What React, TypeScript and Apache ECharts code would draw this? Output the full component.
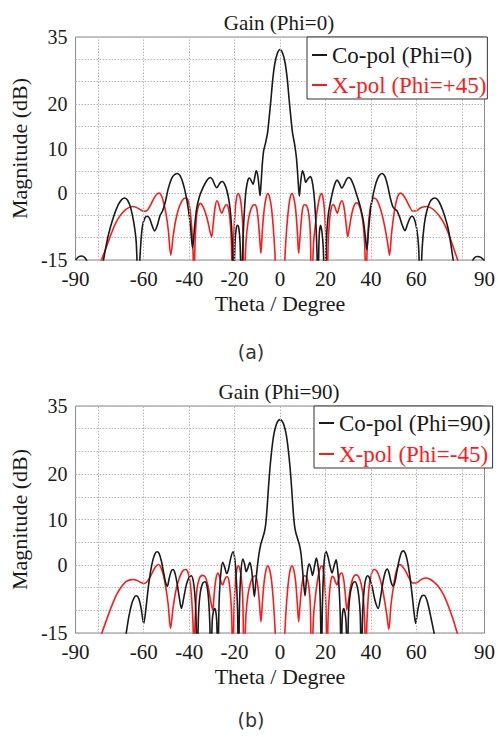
import React, { useEffect, useRef } from "react";
import * as echarts from "echarts";

const xTickLabels = [-90, -60, -40, -20, 0, 20, 40, 60, 90];
const yTickLabels = [35, 20, 10, 0, -15];
const xGridLines = [-80, -60, -40, -20, 0, 20, 40, 60, 80];

const titleA = "Gain (Phi=0)";
const titleB = "Gain (Phi=90)";
const namesA = ["Co-pol (Phi=0)", "X-pol (Phi=+45)"];
const namesB = ["Co-pol (Phi=90)", "X-pol (Phi=-45)"];

// (a) Co-pol, Phi=0 : [theta deg, gain dB]
const coPolA: [number, number][] = [
  [-90, -15.0], [-88.7, -14.3], [-87.2, -14.1], [-85.7, -14.6], [-84.5, -16], [-81, -24],
  [-78.2, -16.5], [-77, -13], [-75.6, -9.5], [-73.6, -5.8], [-71.2, -2.6], [-69.6, -1.4],
  [-68.4, -1.1], [-67.1, -1.6], [-65.8, -3.2], [-64.4, -6.5], [-63.3, -11], [-62.4, -22],
  [-61.5, -13], [-60.6, -7.5], [-59.4, -5.5], [-58.4, -5.2], [-57.4, -5.7], [-56.3, -7.3],
  [-55.2, -8.5], [-54.0, -7.2], [-52.8, -5.0], [-51.7, -4.0], [-50.5, -2.0], [-49.2, 1.0],
  [-47.6, 3.4], [-46.3, 4.2], [-45.2, 4.4], [-44.0, 3.9], [-42.8, 2.4], [-41.6, 0],
  [-40.4, -3.5], [-39.4, -7.5], [-38.5, -12.3], [-37.6, -7.5], [-36.7, -3.5], [-35.5, -0.8],
  [-34.1, 1.0], [-32.5, 2.6], [-31.4, 3.3], [-30.6, 3.5], [-29.7, 3.0], [-28.7, 1.8],
  [-27.8, 1.2], [-26.9, 1.9], [-26.0, 2.5], [-25.3, 2.6], [-24.4, 2.0], [-23.4, 0.6],
  [-22.5, -1.6], [-21.7, -5], [-21.1, -10], [-20.5, -22], [-19.8, -11], [-19.3, -8],
  [-18.7, -7.2], [-18.1, -8], [-17.6, -11], [-17.0, -22], [-16.4, -12], [-15.8, -5],
  [-15.0, 0.5], [-14.1, 3.0], [-13.5, 3.4], [-12.7, 2.8], [-11.9, 2.0], [-11.1, 3.6],
  [-10.5, 5.0], [-9.9, 4.2], [-9.3, 1.8], [-8.8, -0.6], [-8.3, 2.5], [-7.8, 6.5],
  [-7.2, 9.5], [-6.4, 11.2], [-5.5, 13.5], [-4.8, 16.8], [-4.0, 21.0], [-3.2, 25.5],
  [-2.3, 29.0], [-1.2, 31.3], [0, 32.2], [1.2, 31.3], [2.3, 29.0], [3.2, 25.5],
  [4.0, 21.0], [4.8, 16.8], [5.5, 13.5], [6.4, 11.0], [7.2, 8.0], [7.8, 4.0], [8.5, -0.7],
  [9.1, 2.5], [9.9, 5.0], [10.6, 4.0], [11.3, 2.4], [12.3, 3.2], [13.3, 3.7], [14.1, 2.8],
  [14.9, 0], [15.6, -5], [16.2, -12], [16.7, -22], [17.2, -10], [17.8, -7.2], [18.4, -8.5],
  [19.0, -12], [19.7, -22], [20.4, -11], [21.2, -5], [22.2, -2.0], [23.4, 0.8], [24.3, 2.3],
  [25.1, 2.9], [26.1, 2.2], [27.2, 1.1], [28.3, 2.0], [29.3, 3.1], [30.2, 3.5], [31.2, 3.1],
  [32.5, 1.6], [33.8, -0.5], [35.2, -2.8], [36.6, -6], [37.5, -9.5], [38.2, -12.7],
  [39.0, -8], [39.9, -3.5], [41.0, -0.3], [42.3, 2.4], [43.6, 3.9], [44.9, 4.4], [46.1, 3.8],
  [47.3, 1.8], [48.5, -1.0], [49.6, -3.0], [50.5, -3.6], [51.4, -3.9], [52.6, -5.3],
  [53.8, -7.2], [55.0, -8.4], [56.1, -7.0], [57.2, -5.6], [58.1, -5.2], [59.1, -5.8],
  [60.1, -7.8], [61.0, -12], [61.7, -22], [62.6, -12], [63.5, -7], [64.6, -4.0],
  [66.0, -2.0], [67.1, -1.3], [68.1, -1.1], [69.4, -1.5], [70.8, -2.8], [72.4, -5.0],
  [74.0, -8.0], [75.2, -11.5], [76.2, -15], [77.5, -20], [81, -24], [84.2, -16],
  [85.4, -14.6], [86.8, -14.2], [88.4, -14.4], [90, -15.2],
];

// (a) X-pol, Phi=+45
const xPolA: [number, number][] = [
  [-80, -17.5], [-78.6, -15], [-76.5, -12.2], [-74.5, -9.4], [-72.4, -6.8], [-70.3, -5.0],
  [-68.2, -3.8], [-66.3, -3.2], [-64.8, -3.0], [-63.3, -3.2], [-61.5, -3.7], [-59.8, -4.1],
  [-58.3, -3.8], [-56.8, -2.5], [-55.2, -0.9], [-54.1, -0.2], [-53.2, 0], [-52.2, -0.6],
  [-51.2, -2.2], [-50.2, -4.6], [-49.2, -8.2], [-48.1, -13.9], [-47.0, -9.5], [-45.8, -5.8],
  [-44.5, -3.3], [-43.2, -1.8], [-42.2, -1.2], [-41.3, -1.1], [-40.4, -1.8], [-39.6, -3.8],
  [-38.9, -7.5], [-38.3, -13], [-37.9, -20], [-37.4, -11], [-36.8, -5.5], [-36.0, -3.0],
  [-35.0, -2.3], [-34.0, -2.9], [-32.9, -4.3], [-31.8, -6.3], [-30.8, -8.7], [-30.1, -9.8],
  [-29.4, -6.8], [-28.6, -3.2], [-27.8, -1.7], [-27.0, -2.5], [-26.3, -3.9], [-25.6, -4.5],
  [-24.8, -3.5], [-24.0, -2.7], [-23.4, -2.6], [-22.7, -3.5], [-22.0, -6.0], [-21.4, -11],
  [-20.9, -22], [-20.3, -9], [-19.7, -3.5], [-19.1, -1.0], [-18.4, -0.1], [-17.7, -0.8],
  [-17.0, -3.0], [-16.4, -7.5], [-15.8, -22], [-15.0, -11], [-14.0, -6.2], [-13.0, -3.9],
  [-12.0, -2.8], [-11.0, -2.6], [-10.2, -3.6], [-9.5, -6.5], [-8.9, -10.5], [-8.4, -13.5],
  [-7.8, -8.5], [-7.0, -3.8], [-6.2, -1.2], [-5.4, -0.1], [-4.6, -0.9], [-3.8, -3.2],
  [-3.0, -7.5], [-2.3, -13], [-1.5, -22], [0, -30], [1.5, -22], [2.3, -13], [3.0, -7.5],
  [3.8, -3.2], [4.5, -0.9], [5.3, -0.1], [6.1, -1.2], [6.9, -3.8], [7.6, -8.5], [8.2, -13.5],
  [8.7, -10.5], [9.3, -6.5], [9.9, -3.6], [10.7, -2.6], [11.7, -2.8], [12.6, -4.5],
  [13.3, -8.5], [13.9, -22], [14.8, -11], [15.8, -6], [16.8, -2.5], [17.5, -0.8],
  [18.2, -0.1], [18.9, -1.0], [19.5, -3.5], [20.1, -9], [20.7, -22], [21.2, -11],
  [21.8, -6.0], [22.5, -3.5], [23.2, -2.6], [23.9, -2.8], [24.6, -3.8], [25.2, -4.5],
  [26.0, -3.2], [26.6, -2.1], [27.3, -1.7], [28.1, -3.0], [29.0, -6.5], [29.8, -9.8],
  [30.6, -7.5], [31.6, -4.6], [32.6, -2.8], [33.6, -2.2], [34.6, -2.5], [35.6, -4.0],
  [36.6, -7], [37.3, -12], [37.8, -20], [38.4, -12], [39.1, -6], [40.0, -2.6], [41.3, -1.1],
  [42.4, -1.4], [43.6, -2.6], [44.9, -4.8], [46.2, -7.8], [47.3, -11], [48.2, -13.9],
  [49.1, -9], [50.0, -5.2], [51.0, -2.2], [52.0, -0.5], [53.0, 0], [54.0, -0.3],
  [55.3, -1.3], [56.8, -2.8], [58.4, -4.0], [60.0, -4.0], [61.6, -3.4], [63.0, -3.1],
  [64.4, -3.0], [66.0, -3.2], [68.0, -3.9], [70.2, -5.2], [72.4, -7.0], [74.4, -9.4],
  [76.4, -12.3], [78.2, -15], [80, -17.5],
];

// (b) Co-pol, Phi=90
const coPolB: [number, number][] = [
  [-69, -19], [-67.7, -15], [-66.5, -11.3], [-65.3, -8.6], [-64.2, -7.2], [-63.2, -6.8],
  [-62.2, -7.4], [-61.2, -9.4], [-60.0, -12.9], [-59.0, -9.5], [-58.0, -5], [-57.0, -1.5],
  [-56.0, 1.0], [-55.0, 2.5], [-54.1, 2.9], [-53.2, 2.5], [-52.2, 0.8], [-51.2, -1.8],
  [-50.3, -4.0], [-49.6, -4.7], [-48.8, -3.0], [-47.9, -1.4], [-47.1, -1.0], [-46.3, -1.7],
  [-45.4, -3.8], [-44.4, -7.0], [-43.4, -9.6], [-42.4, -7.3], [-41.3, -4.5], [-40.2, -2.9],
  [-39.1, -2.4], [-38.2, -3.5], [-37.5, -6.5], [-37.0, -11], [-36.5, -22], [-35.8, -10],
  [-35.0, -5.8], [-34.0, -4.0], [-33.0, -3.7], [-32.1, -4.8], [-31.4, -8], [-30.9, -13],
  [-30.5, -22], [-29.8, -12], [-29.2, -10], [-28.7, -9.6], [-28.2, -10.5], [-27.8, -13],
  [-27.4, -22], [-26.8, -8], [-26.1, -2], [-25.2, 0.6], [-24.3, -0.6], [-23.5, -1.9],
  [-22.7, -1.0], [-21.7, 1.5], [-20.7, 2.9], [-19.9, 1.2], [-19.2, -3.5], [-18.7, -10],
  [-18.3, -22], [-17.8, -8], [-17.2, -1.5], [-16.4, 1.3], [-15.6, 0.2], [-14.9, -1.5],
  [-14.1, -0.6], [-13.3, 0.6], [-12.6, -0.8], [-12.0, -3.5], [-11.3, -7.0], [-10.7, -4.0],
  [-10.0, -0.5], [-9.3, 2.3], [-8.5, 4.5], [-7.6, 6.0], [-6.9, 7.2], [-6.3, 9.0],
  [-5.7, 12.5], [-5.1, 17.0], [-4.4, 21.5], [-3.6, 25.5], [-2.7, 28.8], [-1.6, 31.0],
  [-0.7, 31.8], [0, 32], [0.7, 31.8], [1.6, 31.0], [2.7, 28.8], [3.6, 25.5], [4.4, 21.5],
  [5.1, 17.0], [5.7, 12.5], [6.3, 9.0], [6.9, 7.2], [7.6, 6.0], [8.5, 4.5], [9.2, 2.6],
  [9.8, -0.5], [10.4, -4.0], [11.0, -6.8], [11.6, -3.5], [12.2, -0.8], [12.9, 0.2],
  [13.6, -0.8], [14.3, -2.3], [15.1, -0.5], [16.0, 1.5], [16.8, -0.5], [17.4, -4],
  [17.8, -10], [18.2, -22], [18.7, -8], [19.4, 0.5], [20.3, 3.0], [21.2, 1.6], [22.1, -0.5],
  [22.9, -1.8], [23.8, -0.2], [24.7, 1.1], [25.4, -1.2], [26.0, -5], [26.5, -11],
  [26.9, -22], [27.4, -11.5], [28.0, -9.6], [28.6, -10.5], [29.1, -13], [29.6, -22],
  [30.2, -10], [31.0, -6], [32.0, -4.1], [33.0, -3.7], [33.9, -4.6], [34.7, -7], [35.3, -11],
  [35.8, -22], [36.4, -10], [37.1, -5], [37.8, -3.0], [38.6, -2.4], [39.6, -3.2],
  [40.7, -5.2], [41.9, -8], [43.2, -9.6], [44.3, -7], [45.3, -3.8], [46.3, -1.6],
  [47.2, -0.9], [48.0, -1.8], [48.9, -3.8], [49.9, -4.7], [50.7, -3.5], [51.6, -1.0],
  [52.6, 1.4], [53.5, 2.8], [54.3, 3.1], [55.1, 2.6], [56.0, 1.0], [57.0, -2.0], [58.0, -6],
  [59.0, -10.5], [59.7, -12.9], [60.6, -10], [61.6, -7.8], [62.5, -6.8], [63.4, -6.7],
  [64.3, -7.3], [65.3, -9], [66.5, -11.8], [67.8, -15], [69, -19],
];

// (b) X-pol, Phi=-45
const xPolB: [number, number][] = [
  [-80, -17.5], [-78.4, -15], [-76.3, -12], [-74.2, -9.2], [-72.0, -6.6], [-69.8, -4.8],
  [-67.8, -3.7], [-66.0, -3.3], [-64.6, -3.2], [-63.1, -3.4], [-61.5, -3.8], [-60.0, -4.1],
  [-58.5, -3.7], [-57.0, -2.5], [-55.4, -0.9], [-54.4, -0.2], [-53.5, 0.1], [-52.5, -0.5],
  [-51.4, -2.2], [-50.4, -4.6], [-49.3, -8.4], [-48.2, -14], [-47.1, -9.5], [-45.9, -5.8],
  [-44.6, -3.3], [-43.3, -1.7], [-42.3, -1.1], [-41.4, -1.0], [-40.5, -1.7], [-39.6, -3.8],
  [-38.9, -7.5], [-38.3, -13], [-37.9, -20], [-37.3, -11], [-36.6, -5.5], [-35.5, -3.0],
  [-34.2, -2.3], [-33.0, -2.6], [-31.9, -4.2], [-30.9, -6.8], [-30.1, -9.0], [-29.6, -9.9],
  [-29.0, -6.5], [-28.2, -3.0], [-27.3, -1.8], [-26.5, -2.8], [-25.8, -4.0], [-25.2, -4.4],
  [-24.5, -3.4], [-23.8, -2.7], [-23.2, -2.6], [-22.5, -3.5], [-21.9, -6.0], [-21.3, -11],
  [-20.8, -22], [-20.2, -9], [-19.6, -3.5], [-19.0, -1.0], [-18.4, -0.2], [-17.7, -0.9],
  [-17.0, -3.0], [-16.4, -7.5], [-15.8, -22], [-15.0, -11], [-14.0, -6.2], [-12.9, -3.8],
  [-11.9, -2.7], [-10.9, -2.4], [-10.1, -3.5], [-9.4, -6.5], [-8.9, -9.5], [-8.4, -12.5],
  [-7.8, -8.5], [-7.0, -3.8], [-6.2, -1.2], [-5.4, -0.2], [-4.6, -1.0], [-3.8, -3.2],
  [-3.0, -7.5], [-2.3, -13], [-1.5, -22], [0, -30], [1.5, -22], [2.3, -13], [3.0, -7.5],
  [3.8, -3.2], [4.5, -1.0], [5.3, -0.2], [6.1, -1.2], [6.9, -3.8], [7.6, -8.5], [8.2, -12.5],
  [8.7, -9.5], [9.2, -6.5], [9.9, -3.5], [10.7, -2.4], [11.7, -2.7], [12.6, -4.5],
  [13.3, -8.5], [13.9, -22], [14.8, -11], [15.8, -6], [16.8, -2.5], [17.6, -0.8],
  [18.3, -0.2], [19.0, -1.0], [19.6, -3.5], [20.2, -9], [20.7, -22], [21.2, -11],
  [21.8, -6.0], [22.4, -3.4], [23.0, -2.5], [23.7, -2.8], [24.4, -3.8], [25.0, -4.4],
  [25.8, -3.2], [26.5, -2.0], [27.2, -1.8], [28.0, -3.2], [28.8, -6.8], [29.4, -9.9],
  [30.1, -8], [31.0, -5], [32.2, -2.8], [33.4, -2.2], [34.6, -2.6], [35.7, -4.2],
  [36.6, -7], [37.2, -12], [37.7, -20], [38.3, -12], [39.0, -6], [39.9, -2.6], [41.4, -1.0],
  [42.5, -1.3], [43.7, -2.6], [44.9, -4.8], [46.0, -7.8], [47.0, -11], [47.9, -14.2],
  [48.8, -9], [49.8, -5.2], [50.8, -2.2], [51.8, -0.5], [52.8, 0.1], [53.8, -0.3],
  [55.2, -1.3], [56.7, -2.8], [58.4, -4.0], [60.0, -4.0], [61.6, -3.4], [63.0, -3.0],
  [64.2, -2.9], [65.8, -3.1], [67.8, -3.8], [69.8, -4.8], [72.0, -6.6], [74.2, -9.2],
  [76.2, -12], [78.0, -15], [80, -17.5],
];

const SERIF = '"Liberation Serif", "Times New Roman", serif';
const INK = "#1a1a1a";
const RED = "#ff1a1a";
const GRIDC = "#b5b5b5";

function axisPair(gridIndex: number) {
  const xAxis = {
    gridIndex,
    type: "value",
    min: -90,
    max: 90,
    interval: 10,
    axisLine: { show: false },
    axisTick: { show: false },
    splitLine: { show: false },
    axisLabel: {
      formatter: (v: number) => (xTickLabels.some((t) => Math.abs(t - v) < 1e-6) ? String(v) : ""),
      fontFamily: SERIF,
      fontSize: 21,
      color: INK,
      margin: 8,
    },
    name: "Theta / Degree",
    nameLocation: "middle",
    nameGap: 32,
    nameTextStyle: { fontFamily: SERIF, fontSize: 22, color: INK },
  };
  const yAxis = {
    gridIndex,
    type: "value",
    min: -15,
    max: 35,
    interval: 5,
    axisLine: { show: false },
    axisTick: { show: false },
    splitLine: { show: true, lineStyle: { color: GRIDC, type: [1.5, 1.5], width: 1 } },
    axisLabel: {
      formatter: (v: number) => (yTickLabels.some((t) => Math.abs(t - v) < 1e-6) ? String(v) : ""),
      fontFamily: SERIF,
      fontSize: 20,
      color: INK,
      margin: 8,
    },
    name: "Magnitude (dB)",
    nameLocation: "middle",
    nameGap: 36,
    nameTextStyle: { fontFamily: SERIF, fontSize: 22, color: INK },
  };
  return { xAxis, yAxis };
}

function legendFor(names: string[], left: number, top: number, padding: number[], gap: number) {
  return {
    orient: "vertical",
    left,
    top,
    padding,
    itemGap: gap,
    itemWidth: 15,
    itemHeight: 2,
    icon: "rect",
    borderColor: "#333",
    borderWidth: 1,
    backgroundColor: "#fff",
    textStyle: { fontFamily: SERIF, fontSize: 23, lineHeight: 24, color: INK },
    data: [
      { name: names[0], textStyle: { color: INK } },
      { name: names[1], textStyle: { color: RED } },
    ],
    z: 10,
  };
}

function curve(name: string, data: [number, number][], color: string, idx: number, withGrid: boolean, z: number) {
  const s: any = {
    name,
    type: "line",
    xAxisIndex: idx,
    yAxisIndex: idx,
    data,
    smooth: 0.3,
    showSymbol: false,
    symbol: "none",
    clip: true,
    z,
    lineStyle: { color, width: 1.6 },
    itemStyle: { color },
  };
  if (withGrid) {
    s.markLine = {
      silent: true,
      symbol: "none",
      label: { show: false },
      lineStyle: { color: GRIDC, type: [1.5, 1.5], width: 1 },
      data: xGridLines.map((v) => ({ xAxis: v })),
    };
  }
  return s;
}

export default function App() {
  const ref = useRef<HTMLDivElement>(null);
  useEffect(() => {
    if (!ref.current) return;
    const chart = echarts.init(ref.current, undefined, { renderer: "svg" });
    const a = axisPair(0);
    const b = axisPair(1);
    chart.setOption({
      animation: false,
      backgroundColor: "#fff",
      grid: [
        { left: 71, top: 37, width: 416, height: 223, show: true, borderColor: "#8a8a8a", borderWidth: 1, backgroundColor: "transparent" },
        { left: 71, top: 406, width: 416, height: 227, show: true, borderColor: "#8a8a8a", borderWidth: 1, backgroundColor: "transparent" },
      ],
      xAxis: [a.xAxis, b.xAxis],
      yAxis: [a.yAxis, b.yAxis],
      legend: [
        legendFor(namesA, 307, 37, [6, 1, 2, 5], 6),
        legendFor(namesB, 314, 406, [5, 2, 2, 5], 7),
      ],
      series: [
        curve(namesA[1], xPolA, RED, 0, true, 2),
        curve(namesA[0], coPolA, INK, 0, false, 3),
        curve(namesB[1], xPolB, RED, 1, true, 2),
        curve(namesB[0], coPolB, INK, 1, false, 3),
      ],
      graphic: [
        { type: "text", x: 279, y: 23, style: { text: titleA, font: `21px ${SERIF}`, fill: INK, align: "center", verticalAlign: "middle" } },
        { type: "text", x: 279, y: 392, style: { text: titleB, font: `21px ${SERIF}`, fill: INK, align: "center", verticalAlign: "middle" } },
        { type: "text", x: 251, y: 352, style: { text: "(a)", font: '19px "DejaVu Sans", sans-serif', fill: "#333", align: "center", verticalAlign: "middle" } },
        { type: "text", x: 251, y: 720, style: { text: "(b)", font: '19px "DejaVu Sans", sans-serif', fill: "#333", align: "center", verticalAlign: "middle" } },
      ],
    });
    return () => chart.dispose();
  }, []);
  return <div ref={ref} style={{ position: "absolute", left: 0, top: 0, width: 498, height: 737 }} />;
}
